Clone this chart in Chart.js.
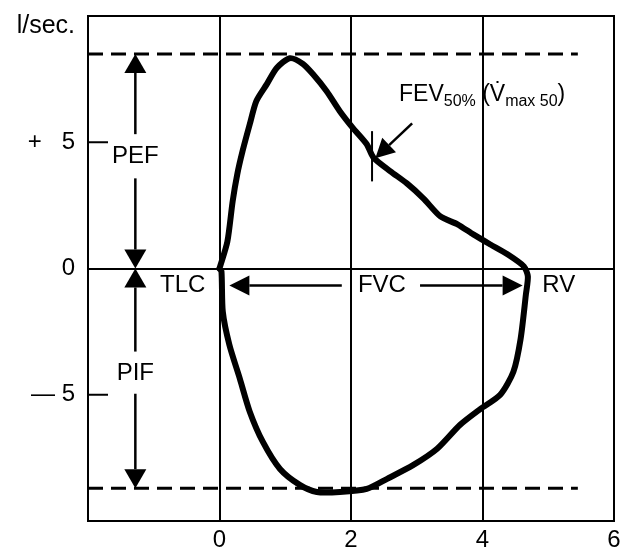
<!doctype html>
<html lang="en">
<head>
    <title>Flow-volume loop</title>
    <script src="https://cdn.jsdelivr.net/npm/chart.js@4.4.1/dist/chart.umd.min.js"></script>
    <style>
        body { margin: 0; background: #fff; }
    </style>
</head>
<body>
<canvas id="chart" width="627" height="554"></canvas>
<script>
    const loopVolume = [0, 0.12, 0.20, 0.27, 0.35, 0.46, 0.56, 0.72, 0.87, 1.07, 1.27, 1.42, 1.63, 1.83, 2.03,
        2.24, 2.34, 2.60, 2.85, 3.10, 3.36, 3.62, 3.86, 4.12, 4.38, 4.63, 4.69, 4.66, 4.58, 4.47, 4.27,
        3.97, 3.66, 3.31, 2.95, 2.55, 2.24, 1.83, 1.48, 1.22, 0.92, 0.66, 0.46, 0.31, 0.15, 0.05, 0.03, 0];
    const loopFlow = [0, 1.07, 2.66, 3.73, 4.64, 5.71, 6.63, 7.30, 7.94, 8.33, 8.10, 7.70, 7.02, 6.23, 5.56,
        4.92, 4.40, 3.85, 3.37, 2.78, 2.06, 1.75, 1.35, 0.95, 0.56, 0.08, -0.32, -1.03, -2.78, -4.09, -5.0,
        -5.56, -6.19, -7.14, -7.78, -8.33, -8.73, -8.85, -8.85, -8.57, -7.94, -6.87, -5.67, -4.37, -3.02, -1.71, -0.12, 0];

    const pefFlow = 8.5;
    const pifFlow = -8.7;
    const dashedVolume = [-2, 5.45];

    const xTicks = [0, 2, 4, 6];
    const yTicks = [5, 0, -5];
    const yTickLabels = ['+   5', '0', '\u2014 5'];
    const xGridAt = [0, 2, 4];
    const yGridAt = [0];

    const fev50Volume = 2.32;

    const FONT = 'Liberation Sans, Arial, sans-serif';
    const tickFont = {family: FONT, size: 24};

    function arrow(ctx, x1, y1, x2, y2, len, half) {
        const a = Math.atan2(y2 - y1, x2 - x1);
        const bx = x2 - len * Math.cos(a), by = y2 - len * Math.sin(a);
        ctx.beginPath();
        ctx.moveTo(x1, y1);
        ctx.lineTo(bx, by);
        ctx.stroke();
        ctx.beginPath();
        ctx.moveTo(x2, y2);
        ctx.lineTo(bx + half * Math.sin(a), by - half * Math.cos(a));
        ctx.lineTo(bx - half * Math.sin(a), by + half * Math.cos(a));
        ctx.closePath();
        ctx.fill();
    }

    const annotations = {
        id: 'annotations',
        afterDatasetsDraw(chart) {
            const ctx = chart.ctx;
            const xs = chart.scales.x, ys = chart.scales.y;
            const px = v => xs.getPixelForValue(v);
            const py = v => ys.getPixelForValue(v);
            const area = chart.chartArea;

            ctx.save();
            ctx.strokeStyle = '#000';
            ctx.fillStyle = '#000';

            // frame
            ctx.lineWidth = 2;
            ctx.strokeRect(area.left, area.top, area.right - area.left, area.bottom - area.top);

            // short inner ticks at +5 / -5
            [5, -5].forEach(v => {
                ctx.beginPath();
                ctx.moveTo(area.left, py(v));
                ctx.lineTo(area.left + 20, py(v));
                ctx.stroke();
            });

            // FEV50 marker
            ctx.beginPath();
            ctx.moveTo(px(fev50Volume), py(5.44));
            ctx.lineTo(px(fev50Volume), py(3.45));
            ctx.stroke();

            // arrows
            ctx.lineWidth = 2.5;
            const ax = -1.28, fy = -0.67;
            arrow(ctx, px(ax), py(5.32), px(ax), py(pefFlow), 19, 11);
            arrow(ctx, px(ax), py(3.57), px(ax), py(0), 19, 11);
            arrow(ctx, px(ax), py(-3.29), px(ax), py(0), 19, 11);
            arrow(ctx, px(ax), py(-4.96), px(ax), py(pifFlow), 19, 11);
            arrow(ctx, px(1.86), py(fy), px(0.15), py(fy), 20, 10);
            arrow(ctx, px(3.05), py(fy), px(4.61), py(fy), 20, 10);
            arrow(ctx, px(2.93), py(5.75), px(2.37), py(4.37), 19, 10);

            // labels
            ctx.font = '24px ' + FONT;
            ctx.textAlign = 'center';
            ctx.textBaseline = 'middle';
            ctx.fillText('PEF', px(ax), py(4.44));
            ctx.fillText('PIF', px(ax), py(-4.17));
            ctx.fillText('TLC', px(-0.56), py(fy));
            ctx.fillText('FVC', px(2.47), py(fy));
            ctx.fillText('RV', px(5.16), py(fy));

            ctx.font = '25px ' + FONT;
            ctx.textAlign = 'right';
            ctx.textBaseline = 'alphabetic';
            ctx.fillText('l/sec.', area.left - 13, area.top + 17);

            // FEV50% (V max 50)
            ctx.textAlign = 'left';
            let x = px(2.73);
            const base = py(6.63);
            const parts = [
                ['FEV', 23, 0], ['50%', 16, 5], [' (V\u0307', 23, 0], ['max 50', 16, 5], [')', 23, 0]
            ];
            parts.forEach(([t, s, d]) => {
                ctx.font = s + 'px ' + FONT;
                ctx.fillText(t, x, base + d);
                x += ctx.measureText(t).width;
            });

            ctx.restore();
        }
    };

    const line = (data, extra) => Object.assign({
        data: data,
        showLine: true,
        borderColor: '#000',
        pointRadius: 0,
        fill: false,
    }, extra);

    new Chart(document.getElementById('chart'), {
        type: 'scatter',
        data: {
            datasets: [
                line(dashedVolume.map(v => ({x: v, y: pefFlow})), {borderWidth: 3, borderDash: [15, 8]}),
                line(dashedVolume.map(v => ({x: v, y: pifFlow})), {borderWidth: 3, borderDash: [15, 8]}),
                line(loopVolume.map((v, i) => ({x: v, y: loopFlow[i]})), {
                    borderWidth: 6, tension: 0.25, borderJoinStyle: 'round', borderCapStyle: 'round'
                }),
            ],
        },
        options: {
            responsive: false,
            animation: false,
            layout: {padding: {top: 16, right: 13, left: 0, bottom: 0}},
            plugins: {
                legend: {display: false},
                tooltip: {enabled: false},
            },
            scales: {
                x: {
                    type: 'linear',
                    min: -2,
                    max: 6,
                    afterBuildTicks: s => { s.ticks = xTicks.map(v => ({value: v})); },
                    afterFit: s => { s.height = 33; },
                    ticks: {
                        font: tickFont,
                        color: '#000',
                        padding: 5,
                        maxRotation: 0,
                        autoSkip: false,
                    },
                    grid: {
                        color: c => c.tick && xGridAt.includes(c.tick.value) ? '#000' : 'rgba(0,0,0,0)',
                        lineWidth: 2,
                        drawTicks: false,
                    },
                    border: {display: true, color: '#000', width: 2},
                },
                y: {
                    type: 'linear',
                    min: -10,
                    max: 10,
                    afterBuildTicks: s => { s.ticks = yTicks.map(v => ({value: v})); },
                    afterFit: s => {
                        s.width = 88;
                        s.paddingTop = 0;
                        s.paddingBottom = 0;
                    },
                    ticks: {
                        callback: v => yTickLabels[yTicks.indexOf(v)],
                        font: tickFont,
                        color: '#000',
                        padding: 13,
                        autoSkip: false,
                    },
                    grid: {
                        color: c => c.tick && yGridAt.includes(c.tick.value) ? '#000' : 'rgba(0,0,0,0)',
                        lineWidth: 2,
                        drawTicks: false,
                    },
                    border: {display: true, color: '#000', width: 2},
                },
            },
        },
        plugins: [annotations],
    });
</script>
</body>
</html>
